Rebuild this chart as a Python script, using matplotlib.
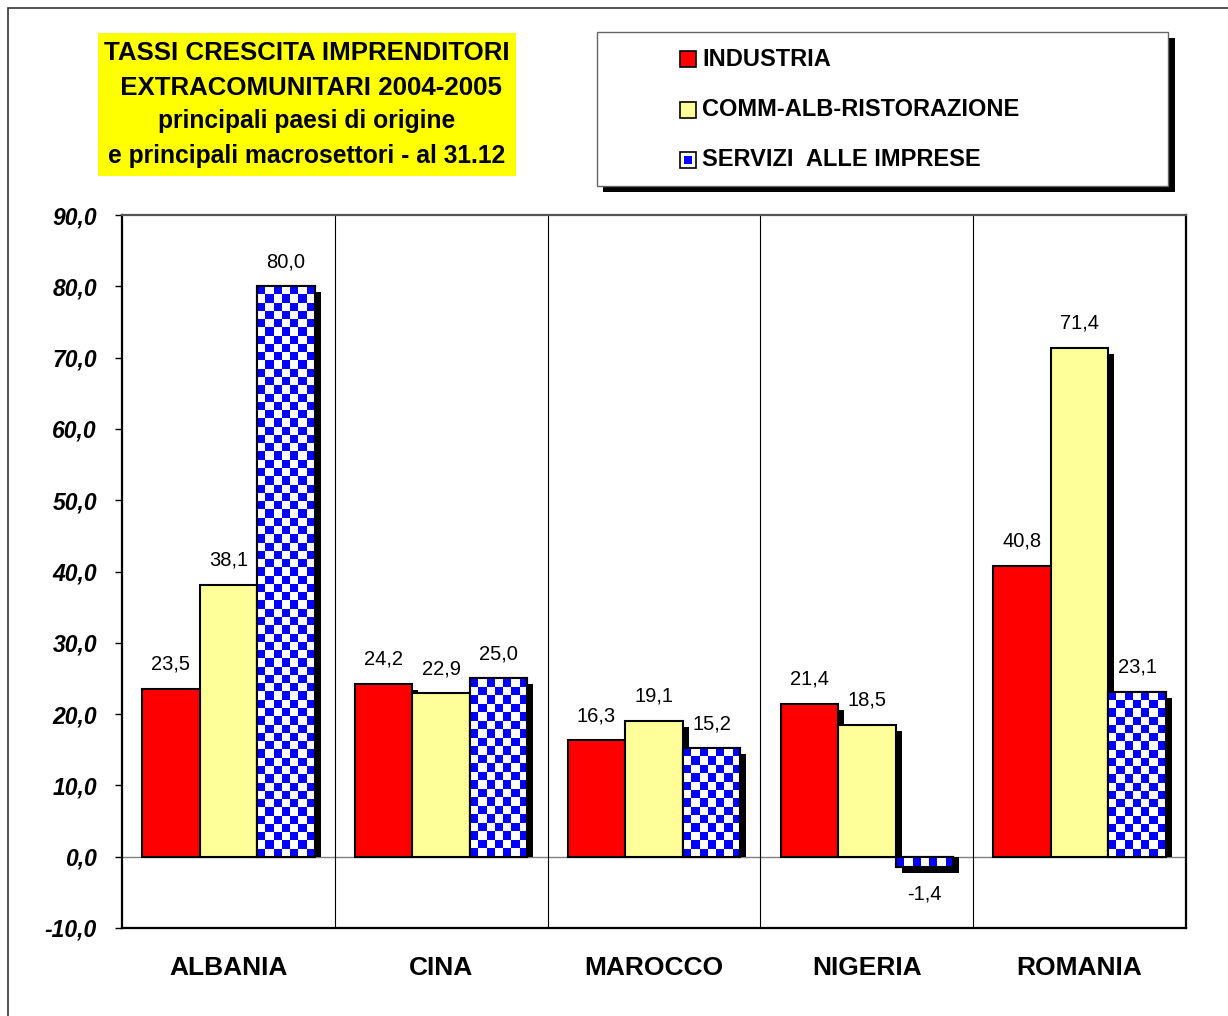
import matplotlib
matplotlib.use("Agg")
import matplotlib.pyplot as plt
import numpy as np
from matplotlib.colors import ListedColormap
from matplotlib.patches import Rectangle

# ==========================================
# DATA
# ==========================================
COUNTRIES = ["ALBANIA", "CINA", "MAROCCO", "NIGERIA", "ROMANIA"]
SERIES = ["INDUSTRIA", "COMM-ALB-RISTORAZIONE", "SERVIZI  ALLE IMPRESE"]
INDUSTRIA = [23.5, 24.2, 16.3, 21.4, 40.8]
COMMERCIO = [38.1, 22.9, 19.1, 18.5, 71.4]
SERVIZI = [80.0, 25.0, 15.2, -1.4, 23.1]
Y_TICKS = [-10, 0, 10, 20, 30, 40, 50, 60, 70, 80, 90]
TITLE_LINES = [
    "TASSI CRESCITA IMPRENDITORI",
    " EXTRACOMUNITARI 2004-2005",
    "principali paesi di origine",
    "e principali macrosettori - al 31.12",
]

# ==========================================
# STYLE
# ==========================================
W, H = 1228, 1016
RED = "#FF0000"
YELLOW = "#FFFF99"
BLUE = "#0000FF"
BAR_W = 0.27
SHADOW_PX = 6

plt.rcParams["font.family"] = ["Liberation Sans", "DejaVu Sans"]


def fx(x):
    return x / W


def fy(y):
    return 1 - y / H


fig = plt.figure(figsize=(W / 100, H / 100), dpi=100)
ax = fig.add_axes([fx(122), fy(928), fx(1186) - fx(122), fy(215) - fy(928)])
ax.set_xlim(-0.5, len(COUNTRIES) - 0.5)
ax.set_ylim(-10, 90)
fig.canvas.draw()

# shadow offset in data units
o = ax.transData.inverted().transform(ax.transData.transform((0, 0)) + [SHADOW_PX, -SHADOW_PX])
DX, DY = o[0], o[1]

x = np.arange(len(COUNTRIES))
ax.axhline(0, color="#808080", lw=1.0, zorder=1)
for sep in x[:-1] + 0.5:
    ax.axvline(sep, color="black", lw=0.8, zorder=1)


def draw_series(xs, vals, z, face):
    # shadow: shifted right/down, kept on the bar's side of the zero line
    ax.bar(xs + DX, [v + DY for v in vals], BAR_W, color="black", lw=0, zorder=z)
    return ax.bar(xs, vals, BAR_W, color=face, edgecolor="black", lw=1.5, zorder=z + 0.5)


draw_series(x - BAR_W, INDUSTRIA, 2, RED)
draw_series(x, COMMERCIO, 3, YELLOW)
serv = draw_series(x + BAR_W, SERVIZI, 4, "white")

# checkerboard fill for the third series
cell_px = 8.3
for rect in serv:
    x0, y0 = rect.get_x(), rect.get_y()
    w, h = rect.get_width(), rect.get_height()
    ylo, yhi = min(y0, y0 + h), max(y0, y0 + h)
    p0 = ax.transData.transform((x0, ylo))
    p1 = ax.transData.transform((x0 + w, yhi))
    nx = max(1, int(round((p1[0] - p0[0]) / cell_px)))
    ny = max(1, int(round((p1[1] - p0[1]) / cell_px)))
    checker = (np.add.outer(np.arange(ny), np.arange(nx)) % 2).astype(float)
    img = ax.imshow(checker, cmap=ListedColormap([BLUE, "white"]),
                    extent=(x0, x0 + w, ylo, yhi),
                    aspect="auto", interpolation="nearest", zorder=5)
    img.set_clip_path(rect)
    ax.add_patch(Rectangle((x0, y0), w, h, fill=False, edgecolor="black",
                           lw=1.5, zorder=6))

ax.set_xlim(-0.5, len(COUNTRIES) - 0.5)
ax.set_ylim(-10, 90)

# value labels
for offs, vals in [(-BAR_W, INDUSTRIA), (0, COMMERCIO), (BAR_W, SERVIZI)]:
    for xi, v in zip(x + offs, vals):
        lab = f"{v:.1f}".replace(".", ",")
        if v >= 0:
            ax.annotate(lab, (xi, v), xytext=(0, 11), textcoords="offset points",
                        ha="center", va="bottom", fontsize=14.5, zorder=7)
        else:
            ax.annotate(lab, (xi, v), xytext=(0, -13), textcoords="offset points",
                        ha="center", va="top", fontsize=14.5, zorder=7)

ax.set_yticks(Y_TICKS)
ax.set_yticklabels([f"{t:.1f}".replace(".", ",") for t in Y_TICKS],
                   fontsize=16.5, fontweight="bold", fontstyle="italic")
ax.tick_params(axis="y", direction="out", length=5, width=1, pad=13)
ax.set_xticks(x)
ax.set_xticklabels(COUNTRIES, fontsize=19, fontweight="bold")
ax.tick_params(axis="x", length=0, pad=20)
for sp in ax.spines.values():
    sp.set_linewidth(1.6)
    sp.set_color("black")
ax.spines["top"].set_color("#555555")

# outer frame
fig.add_artist(Rectangle((fx(8), fy(1040)), fx(1260) - fx(8), fy(8) - fy(1040),
                         transform=fig.transFigure, fill=False, edgecolor="#333333", lw=1.2))

# title box
fig.add_artist(Rectangle((fx(98), fy(176)), fx(516) - fx(98), fy(33) - fy(176),
                         transform=fig.transFigure, facecolor="#FFFF00", edgecolor="none"))
title_y = [53, 88, 121, 156]
title_fs = [18.6, 18.6, 17.7, 17.7]
for line, ty, fs in zip(TITLE_LINES, title_y, title_fs):
    fig.text(fx(307), fy(ty), line, ha="center", va="center",
             fontsize=fs, fontweight="bold")

# legend box with shadow
fig.add_artist(Rectangle((fx(603), fy(192)), fx(1175) - fx(603), fy(38) - fy(192),
                         transform=fig.transFigure, facecolor="black", edgecolor="none"))
fig.add_artist(Rectangle((fx(597), fy(186)), fx(1168) - fx(597), fy(32) - fy(186),
                         transform=fig.transFigure, facecolor="white",
                         edgecolor="#666666", lw=1.0))
leg_y = [59, 110, 160]
leg_col = [RED, YELLOW, None]
sq = 16
for name, ly, col in zip(SERIES, leg_y, leg_col):
    x0, y0 = 680, ly - sq / 2
    fig.add_artist(Rectangle((fx(x0), fy(y0 + sq)), fx(sq), fy(0) - fy(sq),
                             transform=fig.transFigure,
                             facecolor=col if col is not None else "white",
                             edgecolor="black", lw=1.2))
    if col is None:
        fig.add_artist(Rectangle((fx(x0 + 4), fy(y0 + sq - 4)), fx(sq - 8), fy(0) - fy(sq - 8),
                                 transform=fig.transFigure, facecolor=BLUE,
                                 edgecolor="none"))
    fig.text(fx(702), fy(ly), name, ha="left", va="center",
             fontsize=17, fontweight="bold")

fig.savefig("out.png", dpi=100)
